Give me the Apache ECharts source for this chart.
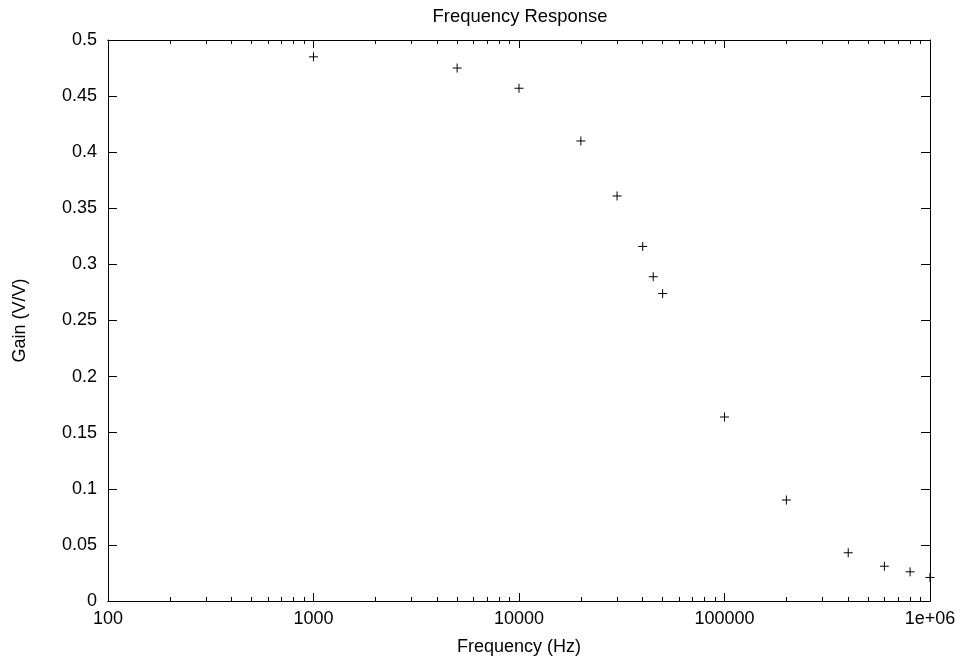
<!DOCTYPE html>
<html>
<head>
<meta charset="utf-8">
<title>Frequency Response</title>
<script src="https://cdn.jsdelivr.net/npm/echarts@6/dist/echarts.min.js"></script>
<style>
	*{
		margin: 0;
		padding: 0;
	}
	#chart{
		width: 962px;
		height: 661px;
		background-color: #fff;
	}
</style>
</head>
<body>
	<div id="chart"></div>
</body>
<script>
	// 数据
	var freq = [1000, 5000, 10000, 20000, 30000, 40000, 45000, 50000, 100000, 200000, 400000, 600000, 800000, 1000000];
	var gain = [0.485, 0.475, 0.457, 0.410, 0.361, 0.316, 0.289, 0.274, 0.164, 0.090, 0.043, 0.031, 0.026, 0.021];
	var majorX = [100, 1000, 10000, 100000, 1000000];
	var minorX = [];
	for (var d = 0; d < majorX.length - 1; d++) {
		for (var k = 2; k <= 9; k++) {
			minorX.push(majorX[d] * k);
		}
	}

	var points = [];
	for (var i = 0; i < freq.length; i++) {
		points.push([freq[i], gain[i]]);
	}

	var font = 'Liberation Sans, Arial, sans-serif';
	var black = '#000';

	function xAxisFor(pos, ticks, len, showLabel) {
		return {
			type: 'log',
			logBase: 10,
			min: 100,
			max: 1000000,
			position: pos,
			axisLine: { show: true, lineStyle: { color: black, width: 1 } },
			axisTick: { show: true, inside: true, length: len, customValues: ticks, lineStyle: { color: black, width: 1 } },
			axisLabel: {
				show: showLabel,
				customValues: ticks,
				color: black,
				fontFamily: font,
				fontSize: 18,
				margin: 9,
				formatter: function (v) {
					return v >= 1000000 ? '1e+06' : String(Math.round(v));
				}
			},
			splitLine: { show: false }
		};
	}

	function yAxisFor(pos, showLabel) {
		return {
			type: 'value',
			min: 0,
			max: 0.5,
			interval: 0.05,
			position: pos,
			axisLine: { show: true, lineStyle: { color: black, width: 1 } },
			axisTick: { show: true, inside: true, length: 9, lineStyle: { color: black, width: 1 } },
			axisLabel: {
				show: showLabel,
				color: black,
				fontFamily: font,
				fontSize: 18,
				margin: 11,
				formatter: function (v) {
					return String(+v.toFixed(2));
				}
			},
			splitLine: { show: false }
		};
	}

	var myChart = echarts.init(document.getElementById('chart'));

	var xMain = xAxisFor('bottom', majorX, 8, true);
	xMain.name = 'Frequency (Hz)';
	xMain.nameLocation = 'middle';
	xMain.nameGap = 37;
	xMain.nameTextStyle = { color: black, fontFamily: font, fontSize: 18 };

	var yMain = yAxisFor('left', true);
	yMain.name = 'Gain (V/V)';
	yMain.nameLocation = 'middle';
	yMain.nameGap = 79;
	yMain.nameTextStyle = { color: black, fontFamily: font, fontSize: 18 };

	var option = {
		backgroundColor: '#fff',
		animation: false,
		// 标题居中于绘图区
		title: {
			text: 'Frequency Response',
			left: 515,
			textAlign: 'center',
			top: 3,
			textStyle: { color: black, fontFamily: font, fontSize: 18.4, fontWeight: 'normal' }
		},
		grid: {
			left: 108,
			right: 32,
			top: 40,
			bottom: 60
		},
		xAxis: [
			xMain,
			xAxisFor('bottom', minorX, 4, false),
			xAxisFor('top', majorX, 8, false),
			xAxisFor('top', minorX, 4, false)
		],
		yAxis: [
			yMain,
			yAxisFor('right', false)
		],
		series: [
			{
				type: 'scatter',
				xAxisIndex: 0,
				yAxisIndex: 0,
				data: points,
				symbol: 'path://M0,5L10,5M5,0L5,10',
				symbolSize: 9,
				itemStyle: {
					color: 'none',
					borderColor: black,
					borderWidth: 1,
					opacity: 1
				}
			}
		]
	};

	myChart.setOption(option);
</script>
</html>
